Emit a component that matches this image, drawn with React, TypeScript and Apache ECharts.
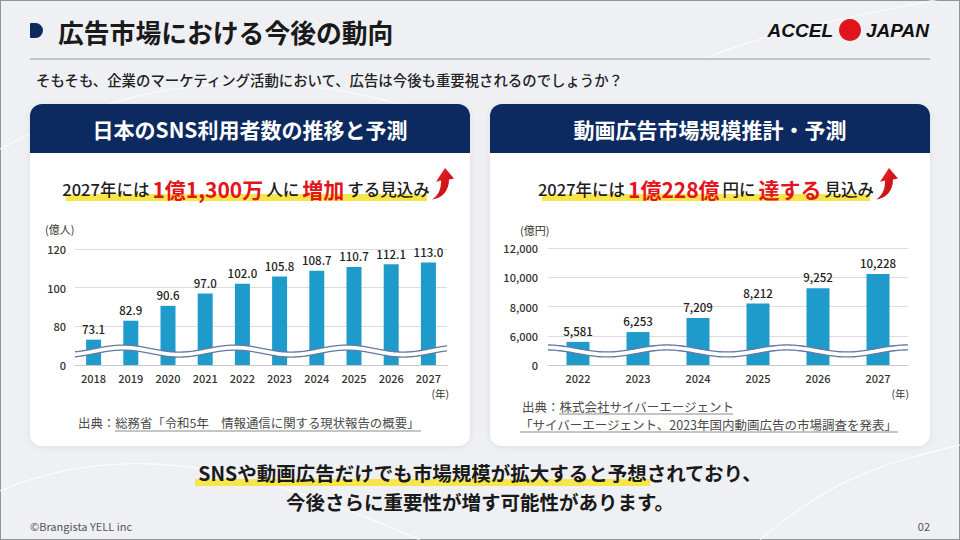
import React, { useEffect, useRef } from "react";
import * as echarts from "echarts";

// ---------------- data ----------------
const snsYears = ["2018", "2019", "2020", "2021", "2022", "2023", "2024", "2025", "2026", "2027"];
const snsUsers = [73.1, 82.9, 90.6, 97.0, 102.0, 105.8, 108.7, 110.7, 112.1, 113.0];
const snsAxis = { min: 60, max: 120, interval: 20, zeroTick: 60 };

const videoYears = ["2022", "2023", "2024", "2025", "2026", "2027"];
const videoMarket = [5581, 6253, 7209, 8212, 9252, 10228];
const videoAxis = { min: 4000, max: 12000, interval: 2000, zeroTick: 4000 };

// axis-break positions (in axis units)
const snsBreak = 67.2;
const videoBreak = 4960;

const FONT = "'Noto Sans CJK JP', 'Noto Sans', sans-serif";
const NAVY = "#0c2a5f";
const RED = "#e3141b";
const BAR = "#1f9bcb";

// curved arrow shape
echarts.graphic.registerShape(
  "upArrow",
  echarts.graphic.extendPath(
    "M1,30 C8,26 10,20 10,12 L5,13 L14,0 L23,10 L18,11 C18,22 11,29 1,30 Z",
    {}
  )
);

const comma = (n: number) => String(n).replace(/\B(?=(\d{3})+(?!\d))/g, ",");

function waveRender(period: number, crestX: number) {
  return (params: any, api: any) => {
    const cs = params.coordSys;
    const yc = api.coord([0, api.value(1)])[1];
    const A = 3.5;
    const upper: number[][] = [];
    const lower: number[][] = [];
    for (let x = cs.x; x <= cs.x + cs.width + 0.01; x += 2) {
      const d = -A * Math.cos((2 * Math.PI * (x - crestX)) / period);
      upper.push([x, yc - 2.5 + d]);
      lower.push([x, yc + 2.5 + d]);
    }
    const poly = upper.concat(lower.slice().reverse());
    return {
      type: "group",
      children: [
        { type: "polygon", shape: { points: poly }, style: { fill: "#ffffff" } },
        { type: "polyline", shape: { points: upper }, style: { stroke: "#6478a3", lineWidth: 1.3, fill: null } },
        { type: "polyline", shape: { points: lower }, style: { stroke: "#6478a3", lineWidth: 1.3, fill: null } },
      ],
    };
  };
}

function txt(x: number, y: number, text: string, size: number, opts: any = {}) {
  const align = opts.align || "left";
  return {
    type: "text",
    x,
    y,
    z: opts.z ?? 20,
    style: {
      text,
      fill: opts.color || "#222",
      fontSize: size,
      fontWeight: opts.weight || "normal",
      fontStyle: opts.italic ? "italic" : "normal",
      fontFamily: opts.family || FONT,
      align,
      textAlign: align,
      verticalAlign: "middle",
      textVerticalAlign: "middle",
      rich: opts.rich,
    },
  };
}

function card(x: number, title: string) {
  return [
    {
      type: "rect",
      z: 1,
      shape: { x, y: 104, width: 440, height: 342, r: 12 },
      style: { fill: "#ffffff", shadowBlur: 6, shadowColor: "rgba(0,0,0,0.08)", shadowOffsetY: 1 },
    },
    {
      type: "rect",
      z: 2,
      shape: { x, y: 104, width: 440, height: 49, r: [12, 12, 0, 0] },
      style: { fill: NAVY },
    },
    txt(x + 220, 129, title, 21, { align: "center", color: "#ffffff", weight: "bold" }),
  ];
}

function annotation(cx: number, x0: number, x1: number, arrowX: number, text: string) {
  return [
    { type: "rect", z: 10, shape: { x: x0, y: 194, width: x1 - x0, height: 7 }, style: { fill: "#f7e64a" } },
    {
      type: "text",
      x: cx,
      y: 189,
      z: 20,
      style: {
        text,
        align: "center",
        textAlign: "center",
        verticalAlign: "middle",
        textVerticalAlign: "middle",
        fontFamily: FONT,
        rich: {
          k: { fontSize: 16.5, fontWeight: 500, fill: "#1c1c1c", color: "#1c1c1c", fontFamily: FONT },
          r: { fontSize: 21, fontWeight: "bold", fill: RED, color: RED, fontFamily: FONT, padding: [0, 3] },
        },
      },
    },
    {
      type: "upArrow",
      x: arrowX,
      y: 168,
      scaleX: 1,
      scaleY: 1.05,
      z: 20,
      style: {
        fill: new echarts.graphic.LinearGradient(0, 0, 1, 1, [
          { offset: 0, color: "#f0252a" },
          { offset: 1, color: "#b8080e" },
        ]),
      },
    },
  ];
}

export default function App() {
  const ref = useRef<HTMLDivElement>(null);

  useEffect(() => {
    if (!ref.current) return;
    const chart = echarts.init(ref.current, undefined, { renderer: "svg" });

    const axisLabel = { color: "#333", fontSize: 11, fontFamily: FONT, fontWeight: 500 };

    const graphics: any[] = [
      { type: "rect", z: -10, shape: { x: 0, y: 0, width: 960, height: 540 }, style: { fill: "#eef0f4", stroke: "#949494", lineWidth: 2 } },
      { type: "bezierCurve", z: -9, shape: { x1: -20, y1: 160, cpx1: 120, cpy1: 80, cpx2: 260, cpy2: 60, x2: 420, y2: 110 }, style: { stroke: "rgba(255,255,255,0.8)", lineWidth: 1.2, fill: null } },
      { type: "bezierCurve", z: -9, shape: { x1: -20, y1: 500, cpx1: 120, cpy1: 430, cpx2: 260, cpy2: 470, x2: 420, y2: 540 }, style: { stroke: "rgba(255,255,255,0.8)", lineWidth: 1.2, fill: null } },
      { type: "bezierCurve", z: -9, shape: { x1: 700, y1: 60, cpx1: 800, cpy1: 20, cpx2: 900, cpy2: 10, x2: 980, y2: -10 }, style: { stroke: "rgba(255,255,255,0.8)", lineWidth: 1.2, fill: null } },
      { type: "bezierCurve", z: -9, shape: { x1: 760, y1: 540, cpx1: 840, cpy1: 470, cpx2: 900, cpy2: 460, x2: 980, y2: 440 }, style: { stroke: "rgba(255,255,255,0.8)", lineWidth: 1.2, fill: null } },
      // header
      { type: "rect", z: 5, shape: { x: 30, y: 23, width: 13, height: 15, r: [1, 7.5, 7.5, 1] }, style: { fill: NAVY } },
      txt(58, 31, "広告市場における今後の動向", 25.8, { weight: "bold", color: "#1a1a1a" }),
      { type: "line", z: 5, shape: { x1: 30, y1: 59, x2: 930, y2: 59 }, style: { stroke: "#b5b5b5", lineWidth: 1.5 } },
      txt(36, 79, "そもそも、企業のマーケティング活動において、広告は今後も重要視されるのでしょうか？", 14.4, { color: "#222", weight: 500 }),
      // logo
      txt(833, 30, "ACCEL", 19, { align: "right", color: "#111", weight: 900, italic: true, family: "'Liberation Sans', Roboto, sans-serif" }),
      { type: "circle", z: 20, shape: { cx: 850, cy: 30, r: 11 }, style: { fill: "#e0141b" } },
      txt(866, 30, "JAPAN", 19, { color: "#111", weight: 900, italic: true, family: "'Liberation Sans', Roboto, sans-serif" }),
      // cards
      ...card(30, "日本のSNS利用者数の推移と予測"),
      ...card(490, "動画広告市場規模推計・予測"),
      ...annotation(246, 66, 427, 431, "{k|2027年には}{r|1億1,300万}{k|人に}{r|増加}{k|する見込み}"),
      ...annotation(706, 542, 870, 875, "{k|2027年には}{r|1億228億}{k|円に}{r|達する}{k|見込み}"),
      // units
      txt(45, 229, "(億人)", 11, { color: "#333" }),
      txt(449, 393, "(年)", 10.5, { align: "right", color: "#333" }),
      txt(520, 230, "(億円)", 11, { color: "#333" }),
      txt(909, 393, "(年)", 10.5, { align: "right", color: "#333" }),
      // sources
      txt(78, 423, "出典：総務省「令和5年　情報通信に関する現状報告の概要」", 12.4, { color: "#4a4a4a" }),
      { type: "line", z: 20, shape: { x1: 115, y1: 431, x2: 421, y2: 431 }, style: { stroke: "#8a8a8a", lineWidth: 1 } },
      txt(522, 406, "出典：株式会社サイバーエージェント", 12.5, { color: "#4a4a4a" }),
      { type: "line", z: 20, shape: { x1: 559, y1: 414, x2: 733, y2: 414 }, style: { stroke: "#8a8a8a", lineWidth: 1 } },
      txt(520, 424, "「サイバーエージェント、2023年国内動画広告の市場調査を発表」", 12.5, { color: "#4a4a4a" }),
      { type: "line", z: 20, shape: { x1: 520, y1: 432, x2: 898, y2: 432 }, style: { stroke: "#8a8a8a", lineWidth: 1 } },
      // conclusion
      { type: "rect", z: 10, shape: { x: 195, y: 479, width: 455, height: 7 }, style: { fill: "#f7e64a" } },
      txt(480, 472, "SNSや動画広告だけでも市場規模が拡大すると予想されており、", 19.5, { align: "center", weight: "bold", color: "#1a1a1a" }),
      txt(480, 501, "今後さらに重要性が増す可能性があります。", 19.5, { align: "center", weight: "bold", color: "#1a1a1a" }),
      // footer
      txt(30, 526, "©Brangista YELL inc", 11, { color: "#555" }),
      txt(930, 526, "02", 11, { align: "right", color: "#555" }),
    ];

    chart.setOption({
      animation: false,
      textStyle: { fontFamily: FONT },
      graphic: graphics,
      grid: [
        { left: 75, top: 249, width: 372, height: 116 },
        { left: 548, top: 248, width: 360, height: 117 },
      ],
      xAxis: [
        {
          type: "category",
          gridIndex: 0,
          data: snsYears,
          axisTick: { show: false },
          axisLine: { lineStyle: { color: "#c9c9c9" } },
          axisLabel: { ...axisLabel, margin: 7 },
          z: 10,
        },
        {
          type: "category",
          gridIndex: 1,
          data: videoYears,
          axisTick: { show: false },
          axisLine: { lineStyle: { color: "#c9c9c9" } },
          axisLabel: { ...axisLabel, margin: 7 },
          z: 10,
        },
      ],
      yAxis: [
        {
          type: "value",
          gridIndex: 0,
          min: snsAxis.min,
          max: snsAxis.max,
          interval: snsAxis.interval,
          axisLine: { show: false },
          axisTick: { show: false },
          splitLine: { lineStyle: { color: "#dcdcdc" } },
          axisLabel: { ...axisLabel, margin: 9, formatter: (v: number) => (v === snsAxis.zeroTick ? "0" : String(v)) },
          z: 10,
        },
        {
          type: "value",
          gridIndex: 1,
          min: videoAxis.min,
          max: videoAxis.max,
          interval: videoAxis.interval,
          axisLine: { show: false },
          axisTick: { show: false },
          splitLine: { lineStyle: { color: "#dcdcdc" } },
          axisLabel: { ...axisLabel, margin: 10, formatter: (v: number) => (v === videoAxis.zeroTick ? "0" : comma(v)) },
          z: 10,
        },
      ],
      series: [
        {
          type: "bar",
          xAxisIndex: 0,
          yAxisIndex: 0,
          data: snsUsers,
          barWidth: 15,
          z: 10,
          itemStyle: { color: BAR },
          label: {
            show: true,
            position: "top",
            distance: 5,
            color: "#222",
            fontSize: 11.5,
            fontWeight: 500,
            fontFamily: FONT,
            formatter: (p: any) => Number(p.value).toFixed(1),
          },
        },
        {
          type: "custom",
          xAxisIndex: 0,
          yAxisIndex: 0,
          data: [[0, snsBreak]],
          clip: false,
          silent: true,
          z: 12,
          renderItem: waveRender(112, 123),
        },
        {
          type: "bar",
          xAxisIndex: 1,
          yAxisIndex: 1,
          data: videoMarket,
          barWidth: 23,
          z: 10,
          itemStyle: { color: BAR },
          label: {
            show: true,
            position: "top",
            distance: 5,
            color: "#222",
            fontSize: 11.5,
            fontWeight: 500,
            fontFamily: FONT,
            formatter: (p: any) => comma(p.value),
          },
        },
        {
          type: "custom",
          xAxisIndex: 1,
          yAxisIndex: 1,
          data: [[0, videoBreak]],
          clip: false,
          silent: true,
          z: 12,
          renderItem: waveRender(120, 547),
        },
      ],
    });

    return () => chart.dispose();
  }, []);

  return (
    <div
      ref={ref}
      style={{ position: "fixed", left: 0, top: 0, width: 960, height: 540, background: "#eef0f4" }}
    />
  );
}
